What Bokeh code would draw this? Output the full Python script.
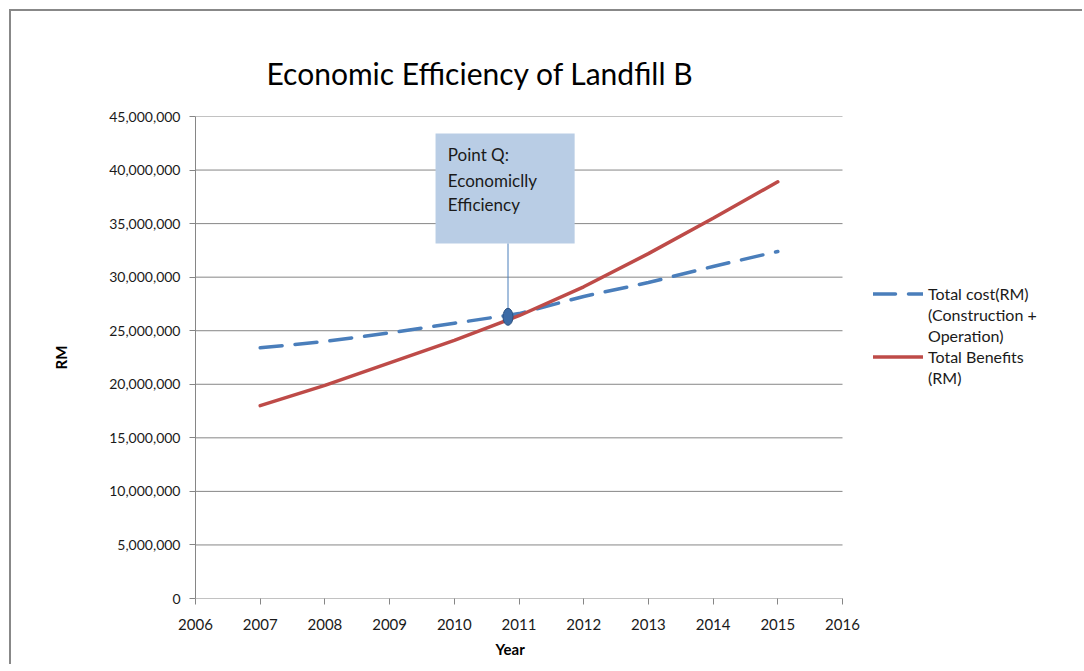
from bokeh.plotting import figure
from bokeh.models import FixedTicker, NumeralTickFormatter, Legend, LegendItem, Label, Range1d, Title
from bokeh.embed import file_html
from bokeh.resources import INLINE

# ---- data ----
years = [2007, 2008, 2009, 2010, 2011, 2012, 2013, 2014, 2015]
total_cost = [23_400_000, 24_000_000, 24_800_000, 25_700_000, 26_600_000,
              28_200_000, 29_500_000, 31_000_000, 32_400_000]
total_benefits = [18_000_000, 19_900_000, 22_000_000, 24_100_000, 26_400_000,
                  29_100_000, 32_200_000, 35_500_000, 38_900_000]
x_ticks = [2006, 2007, 2008, 2009, 2010, 2011, 2012, 2013, 2014, 2015, 2016]
y_ticks = [0, 5_000_000, 10_000_000, 15_000_000, 20_000_000, 25_000_000,
           30_000_000, 35_000_000, 40_000_000, 45_000_000]
title_text = "Economic Efficiency  of Landfill B"
x_title = "Year"
y_title = "RM"
cost_label = ["Total cost(RM)", "(Construction +", "Operation)"]
benefit_label = ["Total Benefits", "(RM)"]
point_q_year = [2010.83]
point_q_value = [26_300_000]
point_q_text = ["Point Q:", "Economiclly", "Efficiency"]

# ---- layout (positions only) ----
BOX = dict(left=2009.71, right=2011.86, bottom=33_140_000, top=43_410_000)
FONT = "Lato"
GRAY = "#868686"
BLUE = "#4A7EBB"
RED = "#BE4B48"
CANVAS_W, CANVAS_H = 1073, 655
BORDER_L, BORDER_T, BORDER_B = 184, 105, 68
# plot area spans x_ticks[0]..x_ticks[-1] over 647 px; frame continues to the right for the legend
x_end = x_ticks[0] + (x_ticks[-1] - x_ticks[0]) * (CANVAS_W - BORDER_L) / 647

p = figure(width=CANVAS_W, height=CANVAS_H,
           x_range=Range1d(x_ticks[0], x_end), y_range=Range1d(y_ticks[0], y_ticks[-1]),
           output_backend="svg", toolbar_location=None,
           min_border_left=BORDER_L, min_border_right=0,
           min_border_top=BORDER_T, min_border_bottom=BORDER_B)
p.styles = {"border-top": "2px solid #888888", "border-left": "2px solid #888888",
            "border-right": "none", "border-bottom": "none"}
p.margin = (9, 0, 0, 9)
p.outline_line_color = None
p.background_fill_color = "white"
p.border_fill_color = "white"

# built-in title left empty; the chart title is added as its own Title above
p.title.text = ""
p.title.text_font_size = "1px"
p.title.standoff = 16

p.add_layout(Title(text=title_text, text_font=FONT, text_font_size="30px",
                   text_font_style="normal", text_color="#000000",
                   align="left", offset=71, standoff=52), "above")

p.xgrid.visible = False
p.ygrid.visible = False

for ax in (p.xaxis, p.yaxis):
    ax.axis_line_color = GRAY
    ax.major_tick_line_color = GRAY
    ax.major_tick_out = 6
    ax.major_tick_in = 0
    ax.minor_tick_line_color = None
    ax.major_label_text_font = FONT
    ax.major_label_text_font_size = "15px"
    ax.major_label_text_color = "#1a1a1a"
    ax.axis_label_text_font = FONT
    ax.axis_label_text_font_size = "15px"
    ax.axis_label_text_font_style = "bold"
    ax.axis_label_text_color = "#000000"

p.xaxis.axis_line_color = None
p.yaxis.major_label_text_font_size = "14px"
p.xaxis.ticker = FixedTicker(ticks=x_ticks)
p.yaxis.ticker = FixedTicker(ticks=y_ticks)
p.yaxis.formatter = NumeralTickFormatter(format="0,0")
p.xaxis.major_label_standoff = 14
p.yaxis.major_label_standoff = 9
p.yaxis.axis_label = y_title
p.yaxis.axis_label_standoff = 36

# x-axis title, centred under the plot area (not the legend area)
p.add_layout(Title(text=x_title, align="left", offset=300, standoff=10,
                   text_font=FONT, text_font_size="15px", text_font_style="bold",
                   text_color="#000000"), "below")

# horizontal gridlines and x-axis line, spanning the plot area only
n = len(y_ticks)
p.segment(x0=[x_ticks[0]] * n, x1=[x_ticks[-1]] * n, y0=y_ticks, y1=y_ticks,
          line_color=GRAY, line_width=1)

# annotation box
p.quad(left=[BOX["left"]], right=[BOX["right"]], bottom=[BOX["bottom"]], top=[BOX["top"]],
       fill_color="#B9CDE5", line_color=None)

cost = p.line(years, total_cost, line_color=BLUE, line_width=3.5,
              line_dash="22 13", line_cap="round")
benefit = p.line(years, total_benefits, line_color=RED, line_width=3.5, line_cap="round")
blank = p.line([], [], line_alpha=0)

# point Q
p.segment(x0=point_q_year, y0=point_q_value, x1=point_q_year, y1=[BOX["bottom"]],
          line_color=BLUE, line_width=1)
p.ellipse(x=point_q_year, y=point_q_value, width=10, height=17,
          width_units="screen", height_units="screen",
          fill_color="#3C6BA6", line_color="#2B5080", line_width=1)

q_y = [41_450_000, 39_070_000, 36_740_000]
for t, yy in zip(point_q_text, q_y):
    p.add_layout(Label(x=2009.90, y=yy, text=t, text_font=FONT, text_font_size="17px",
                       text_color="#1a1a1a", text_baseline="middle", text_align="left"))

legend = Legend(items=[LegendItem(label=cost_label[0], renderers=[cost]),
                       LegendItem(label=cost_label[1], renderers=[blank]),
                       LegendItem(label=cost_label[2], renderers=[blank]),
                       LegendItem(label=benefit_label[0], renderers=[benefit]),
                       LegendItem(label=benefit_label[1], renderers=[blank])],
                location=(678, 211), orientation="vertical",
                glyph_width=50, glyph_height=19, label_height=19,
                label_standoff=5, spacing=2, padding=0, margin=0,
                border_line_color=None, background_fill_alpha=0,
                label_text_font=FONT, label_text_font_size="16px",
                label_text_color="#1a1a1a")
p.add_layout(legend)

open("out.html", "w").write(file_html(p, INLINE))
